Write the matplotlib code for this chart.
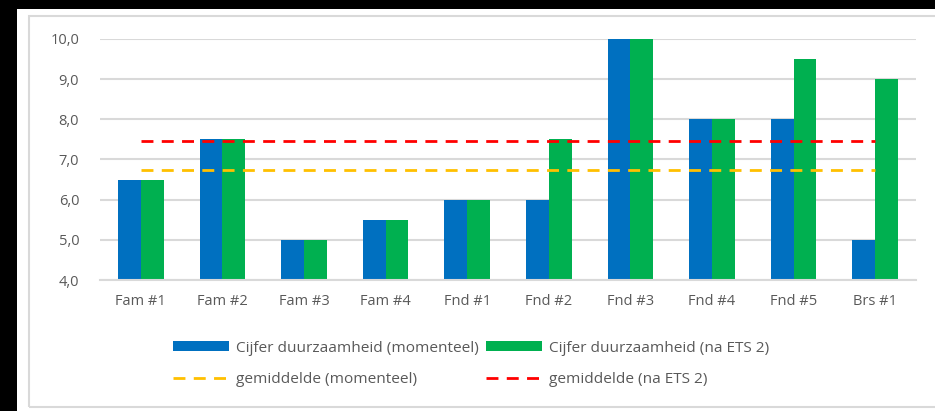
import matplotlib.pyplot as plt
import matplotlib as mpl
from matplotlib.patches import Rectangle
import numpy as np

categories = ['Fam #1', 'Fam #2', 'Fam #3', 'Fam #4', 'Fnd #1',
              'Fnd #2', 'Fnd #3', 'Fnd #4', 'Fnd #5', 'Brs #1']
score_now = [6.5, 7.5, 5.0, 5.5, 6.0, 6.0, 10.0, 8.0, 8.0, 5.0]
score_ets2 = [6.5, 7.5, 5.0, 5.5, 6.0, 7.5, 10.0, 8.0, 9.5, 9.0]
mean_now = [6.75] * len(categories)
mean_ets2 = [7.45] * len(categories)
yticks = [4.0, 5.0, 6.0, 7.0, 8.0, 9.0, 10.0]

mpl.rcParams.update({
    'font.family': ['Open Sans', 'DejaVu Sans'],
    'font.size': 10.5,
    'text.color': '#595959',
    'xtick.color': '#595959',
    'ytick.color': '#595959',
})

W, H = 935, 411
fig = plt.figure(figsize=(W / 100, H / 100), dpi=100)

# screenshot borders and chart frame
fig.patches.append(Rectangle((0, 1 - 9 / H), 1, 9 / H, transform=fig.transFigure,
                             facecolor='black', edgecolor='none', zorder=0))
fig.patches.append(Rectangle((0, 0), 17 / W, 1, transform=fig.transFigure,
                             facecolor='black', edgecolor='none', zorder=0))
fig.patches.append(Rectangle((29 / W, 1 - 407 / H), 1, (407 - 16) / H,
                             transform=fig.transFigure, facecolor='none',
                             edgecolor='#d9d9d9', lw=1.5, zorder=0))

ax = fig.add_axes([100 / W, 1 - 280 / H, 816 / W, 241 / H])

x = np.arange(len(categories))
w = 0.28
b1 = ax.bar(x - w / 2, score_now, w, color='#0070C0', zorder=2,
            label='Cijfer duurzaamheid (momenteel)')
b2 = ax.bar(x + w / 2, score_ets2, w, color='#00B050', zorder=2,
            label='Cijfer duurzaamheid (na ETS 2)')
l1, = ax.plot(x, mean_now, color='#FFC000', lw=2, dashes=(4.3, 3.0), zorder=3,
              label='gemiddelde (momenteel)')
l2, = ax.plot(x, mean_ets2, color='#FF0000', lw=2, dashes=(4.3, 3.0), zorder=3,
              label='gemiddelde (na ETS 2)')

ax.set_xlim(-0.5, len(categories) - 0.5)
ax.set_ylim(4, 10)
ax.set_yticks(yticks)
ax.set_yticklabels([f'{v:.1f}'.replace('.', ',') for v in yticks])
ax.set_xticks(x)
ax.set_xticklabels(categories)
ax.tick_params(length=0)
ax.tick_params(axis='y', pad=15)
ax.tick_params(axis='x', pad=10)
ax.yaxis.grid(True, color='#d9d9d9', lw=1.5, zorder=0)
ax.set_axisbelow(True)
for s in ['top', 'right', 'left']:
    ax.spines[s].set_visible(False)
ax.spines['bottom'].set_color('#d9d9d9')
ax.spines['bottom'].set_linewidth(1.5)

fig.legend([b1, l1, b2, l2],
           [b1.get_label(), l1.get_label(), b2.get_label(), l2.get_label()],
           ncol=2, loc='center', bbox_to_anchor=(471 / W, 1 - 364 / H),
           frameon=False, handlelength=3.6, handleheight=0.6,
           handletextpad=0.45, columnspacing=0.5, labelspacing=1.1,
           fontsize=11.1)

fig.savefig('out.png', dpi=100)
